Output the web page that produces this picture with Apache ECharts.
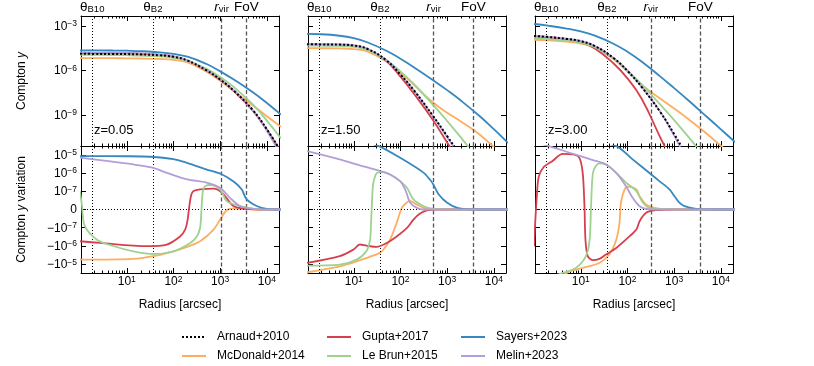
<!DOCTYPE html>
<html>
<head>
<meta charset="utf-8">
<script src="https://cdn.jsdelivr.net/npm/echarts@6/dist/echarts.min.js"></script>
<style>
    html, body { margin: 0; padding: 0; background: #fff; }
    #chart { width: 814px; height: 366px; }
</style>
</head>
<body>
<div id="chart"></div>
<script>
    // radius grid (arcsec) used for the Compton y profiles
    const radiusGrid = [1, 2, 5, 10, 20, 50, 100, 200, 500, 1000, 2000, 5000, 10000, 20000]
    const redshifts = ['z=0.05', 'z=1.50', 'z=3.00']
    const thetaB10 = 1.8
    const thetaB2 = 36
    const fov = 3600
    const rVir = [1080, 512, 318]

    // Compton y profiles, one row per redshift
    const yArnaud = [
        [1.32e-5, 1.31e-5, 1.30e-5, 1.27e-5, 1.21e-5, 1.05e-5, 8.3e-6, 4.6e-6, 1.05e-6, 2.47e-7, 4.1e-8, 2.15e-9, 1.1e-10, 3.5e-12],
        [5.75e-5, 5.71e-5, 5.51e-5, 4.8e-5, 2.76e-5, 4.8e-6, 5.26e-7, 4.08e-8, 8.5e-10, 3.8e-11, 1.6e-12, 2.9e-14, 9e-16, 2.9e-17],
        [2.14e-4, 1.8e-4, 1.33e-4, 9.4e-5, 4.4e-5, 6.97e-6, 9.4e-7, 7.8e-8, 1.63e-9, 5.2e-11, 1.16e-12, 1e-14, 3e-16, 1e-17]
    ]
    const yMcDonald = [
        [6.76e-6, 6.75e-6, 6.68e-6, 6.59e-6, 6.41e-6, 5.96e-6, 5.19e-6, 3.43e-6, 8.6e-7, 2.02e-7, 3.98e-8, 4.37e-9, 8.3e-10, 1.58e-10],
        [3.16e-5, 3.15e-5, 3.06e-5, 2.76e-5, 1.83e-5, 4.18e-6, 7.4e-7, 1.0e-7, 6.9e-9, 1.42e-9, 3.56e-10, 4.7e-11, 6.8e-12, 8.5e-13],
        [1.17e-4, 1.06e-4, 8.65e-5, 6.56e-5, 3.4e-5, 5.9e-6, 8.55e-7, 1.08e-7, 1.29e-8, 2.73e-9, 5.4e-10, 5.4e-11, 8.4e-12, 1.2e-12]
    ]
    const yGupta = [
        [1.41e-5, 1.41e-5, 1.39e-5, 1.36e-5, 1.29e-5, 1.12e-5, 8.7e-6, 4.7e-6, 1.06e-6, 2.42e-7, 3.9e-8, 1.97e-9, 1.0e-10, 3.2e-12],
        [5.62e-5, 5.58e-5, 5.38e-5, 4.69e-5, 2.7e-5, 4.28e-6, 3.8e-7, 2.4e-8, 4.47e-10, 1.41e-11, 4.47e-13, 4e-15, 1e-16, 3.2e-18],
        [2.0e-4, 1.68e-4, 1.22e-4, 8.0e-5, 3.05e-5, 3.05e-6, 2.92e-7, 1.3e-8, 3.27e-11, 4e-13, 3.2e-15, 1e-17, 1e-19, 1e-21]
    ]
    const yLeBrun = [
        [1.12e-5, 1.12e-5, 1.10e-5, 1.07e-5, 1.01e-5, 8.8e-6, 7.15e-6, 4.4e-6, 1.33e-6, 3.6e-7, 7.3e-8, 5.1e-9, 4.2e-10, 2.66e-11],
        [4.68e-5, 4.65e-5, 4.48e-5, 3.9e-5, 2.32e-5, 4.85e-6, 8.6e-7, 1.09e-7, 4.74e-9, 3.94e-10, 2.86e-11, 7.2e-13, 3.9e-14, 1.9e-15],
        [1.51e-4, 1.32e-4, 1.02e-4, 7.46e-5, 3.74e-5, 6.5e-6, 1.0e-6, 1.18e-7, 5.16e-9, 4.45e-10, 3.45e-11, 9.95e-13, 6.3e-14, 4e-15]
    ]
    const ySayers = [
        [2.29e-5, 2.28e-5, 2.21e-5, 2.14e-5, 2.0e-5, 1.66e-5, 1.29e-5, 8.5e-6, 2.82e-6, 8.7e-7, 2.34e-7, 3.4e-8, 6.5e-9, 1.07e-9],
        [2.88e-4, 2.75e-4, 2.18e-4, 1.49e-4, 7.7e-5, 2.13e-5, 6.15e-6, 1.55e-6, 2.23e-7, 4.72e-8, 9.0e-9, 8.2e-10, 1.1e-10, 1.3e-11],
        [1.35e-3, 1.04e-3, 6.67e-4, 4.26e-4, 2.21e-4, 6.37e-5, 1.84e-5, 4.02e-6, 4.02e-7, 6.44e-8, 9.84e-9, 7.6e-10, 1.08e-10, 1.51e-11]
    ]
    const yMelin = [
        [1.66e-5, 1.65e-5, 1.62e-5, 1.58e-5, 1.47e-5, 1.23e-5, 9.3e-6, 4.8e-6, 1.1e-6, 2.6e-7, 4.3e-8, 2.06e-9, 8.6e-11, 1.9e-12],
        [6.03e-5, 5.98e-5, 5.77e-5, 5.02e-5, 2.89e-5, 5.02e-6, 5.5e-7, 4.08e-8, 7.9e-10, 3.2e-11, 1.26e-12, 1.26e-14, 4e-16, 1.26e-17],
        [2.24e-4, 1.88e-4, 1.39e-4, 9.8e-5, 4.6e-5, 7.3e-6, 9.8e-7, 8.2e-8, 1.71e-9, 4.1e-11, 6.5e-13, 4e-15, 1e-16, 2.5e-18]
    ]

    // Compton y variation, [radius, value] pairs, one row per redshift
    const dyMcDonald = [
        [[1, -5.6e-6], [13.8, -5.1e-6], [37, -3.6e-6], [100, -1.95e-6], [195, -1.12e-6], [372, -5.5e-7], [724, -1.26e-7], [1000, -5.5e-8], [1380, -4e-9], [2000, 6e-9], [2690, 4e-9], [6300, 0], [20000, 0]],
        [[1, -2.75e-5], [5, -1.29e-5], [11.5, -6.9e-6], [36, -2.4e-6], [46, -1.26e-6], [60, -4.5e-7], [83, -7.3e-8], [107, 9e-9], [138, 4e-8], [162, 4.6e-8], [224, 2.7e-8], [316, 9e-9], [513, 2e-9], [1000, 0], [20000, 0]],
        [[1, -1.58e-4], [4.1, -4.0e-5], [5.8, -2.45e-5], [11, -1.58e-5], [25, -8.5e-6], [40.7, -2.95e-6], [57.5, -4.5e-7], [67.6, -7.3e-8], [72.4, 3.7e-8], [87, 1.26e-7], [102, 1.78e-7], [155, 1.26e-7], [182, 7.3e-8], [251, 2.7e-8], [407, 7e-9], [794, 0], [20000, 0]]
    ]
    const dyGupta = [
        [[1, -5.5e-7], [2.7, -6.8e-7], [27, -1.02e-6], [72, -8.3e-7], [138, -3.0e-7], [178, -1.26e-7], [200, -6e-8], [219, 2e-8], [240, 8e-8], [269, 1.02e-7], [372, 1.26e-7], [724, 1.38e-7], [1100, 9.2e-8], [1950, 1.8e-8], [3715, 4e-9], [10000, 0], [20000, 0]],
        [[1, -8.5e-6], [5, -3.6e-6], [9.8, -1.58e-6], [13.5, -8.3e-7], [18.6, -9.5e-7], [31, -1.12e-6], [51, -6.8e-7], [83, -3.0e-7], [138, -1.02e-7], [190, -5.5e-8], [263, -2.2e-8], [372, -5e-9], [631, 0], [20000, 0]],
        [[1, -1.02e-6], [1.07, -5e-8], [1.15, 8e-8], [1.26, 6.3e-7], [1.58, 2.0e-6], [2.5, 4.6e-6], [4.1, 1.12e-5], [6.8, 1.05e-5], [9.3, 6.9e-6], [11, 1.02e-6], [12, 1.8e-8], [12.6, -4.5e-7], [14.1, -3.6e-6], [18.2, -6.0e-6], [25, -5.1e-6], [34.7, -2.95e-6], [57.5, -1.29e-6], [110, -3.0e-7], [155, -1.26e-7], [182, -6.4e-8], [251, -1.8e-8], [407, -4e-9], [1000, 0], [20000, 0]]
    ]
    const dyLeBrun = [
        [[1, 1.0e-7], [1.1, 2e-8], [1.26, -9e-8], [2.3, -4.5e-7], [5.1, -1.0e-6], [13.8, -1.95e-6], [37, -2.75e-6], [100, -1.95e-6], [229, -6.8e-7], [316, -3.0e-7], [372, -1.0e-7], [398, 0], [427, 1.0e-7], [479, 1.9e-7], [617, 2.2e-7], [1000, 1.26e-7], [1380, 4.6e-8], [2690, 1.8e-8], [5130, 5e-9], [10000, 0], [20000, 0]],
        [[1, -1.2e-5], [5, -1.05e-5], [11.5, -5.6e-6], [18.6, -1.95e-6], [22.4, -4.5e-7], [23.4, -8e-8], [25.1, 9e-8], [26.3, 3.0e-7], [31.6, 1.02e-6], [42.7, 1.12e-6], [60, 8.3e-7], [98, 3.6e-7], [138, 1.55e-7], [190, 5.5e-8], [316, 1.8e-8], [513, 4e-9], [1000, 0], [20000, 0]],
        [[1, -1e-4], [4.1, -3.0e-5], [7.9, -1.58e-5], [12.9, -3.6e-6], [15.5, -4.5e-7], [16.6, 1.8e-8], [18.2, 1.02e-6], [21.4, 2.6e-6], [25, 3.4e-6], [34.7, 2.95e-6], [57.5, 1.02e-6], [93, 3.0e-7], [155, 1.02e-7], [214, 3.7e-8], [295, 9e-9], [575, 2e-9], [1000, 0], [20000, 0]]
    ]
    const dySayers = [
        [[1, 8.5e-6], [10, 8.3e-6], [31.6, 7.8e-6], [100, 5.8e-6], [195, 3.6e-6], [500, 1.6e-6], [1100, 8.3e-7], [2000, 3.2e-7], [2900, 1.26e-7], [3700, 5.5e-8], [6200, 1.8e-8], [10000, 4e-9], [20000, 0]],
        [[1, 1.58e-4], [10, 7.1e-5], [34, 3.0e-5], [98, 6.9e-6], [316, 1.02e-6], [468, 3.2e-7], [513, 2.2e-7], [660, 8.2e-8], [1000, 3.7e-8], [1660, 9e-9], [3800, 0], [20000, 0]],
        [[1, 3.16e-4], [10, 7.9e-5], [57.5, 3.0e-5], [129, 5.6e-6], [309, 9.1e-7], [490, 3.5e-7], [794, 1.26e-7], [1000, 7.5e-8], [1260, 4e-8], [1660, 1.8e-8], [2950, 4e-9], [6300, 0], [20000, 0]]
    ]
    const dyMelin = [
        [[1, 6.9e-6], [2.7, 5.1e-6], [13.8, 2.95e-6], [35.5, 1.95e-6], [72, 1.02e-6], [195, 4.5e-7], [513, 3.0e-7], [1000, 1.55e-7], [1620, 6.4e-8], [2690, 1.8e-8], [5130, 4e-9], [10000, 0], [20000, 0]],
        [[1, 1.58e-5], [5, 5.6e-6], [11.5, 2.95e-6], [36, 1.29e-6], [60, 8.3e-7], [98, 3.6e-7], [126, 1.26e-7], [162, 3.7e-8], [224, 9e-9], [316, 0], [20000, 0]],
        [[1, 5e-5], [2.1, 3.0e-5], [5.8, 1.29e-5], [18.2, 5.1e-6], [34.7, 2.95e-6], [57.5, 1.02e-6], [93, 1.9e-7], [129, 6.4e-8], [182, 1.8e-8], [251, 4e-9], [500, 0], [20000, 0]]
    ]

    const legendCols = [
        ['Arnaud+2010', 'McDonald+2014'],
        ['Gupta+2017', 'Le Brun+2015'],
        ['Sayers+2023', 'Melin+2023']
    ]

    const models = [
        { name: 'Arnaud+2010', color: '#000000', y: yArnaud, dy: null },
        { name: 'McDonald+2014', color: '#fdae61', y: yMcDonald, dy: dyMcDonald },
        { name: 'Gupta+2017', color: '#d6404e', y: yGupta, dy: dyGupta },
        { name: 'Le Brun+2015', color: '#9dd290', y: yLeBrun, dy: dyLeBrun },
        { name: 'Sayers+2023', color: '#3787c0', y: ySayers, dy: dySayers },
        { name: 'Melin+2023', color: '#b29ed8', y: yMelin, dy: dyMelin }
    ]

    const FONT = '"Liberation Sans", Arial, Helvetica, sans-serif'
    const lg = Math.log10
    // symmetric log with linear part below 1e-7
    const LIN = 1e-7
    const symlog = v => Math.abs(v) <= LIN ? v / LIN : Math.sign(v) * (1 + lg(Math.abs(v) / LIN))

    const lefts = [81, 308, 535]
    const xMin = 0.02, xMax = 4.26
    const majorX = [1, 2, 3, 4]
    const minorX = []
    for (let e = 0; e < 5; e++) {
        for (let k = 2; k < 10; k++) {
            const v = e + lg(k)
            if (v > xMin && v < xMax) minorX.push(v)
        }
    }

    const tickRich = {
        b: { fontSize: 12, fontFamily: FONT, color: '#000', lineHeight: 13, padding: [4, 0, 0, 0], verticalAlign: 'bottom' },
        s: { fontSize: 8.5, fontFamily: FONT, color: '#000', lineHeight: 9, verticalAlign: 'top' }
    }
    const topRich = {
        t: { fontSize: 13.5, fontFamily: FONT, color: '#000', lineHeight: 14, padding: [0, 0, 1, 0], verticalAlign: 'top' },
        ti: { fontSize: 13.5, fontFamily: FONT, fontStyle: 'italic', color: '#000', lineHeight: 14, padding: [0, 0, 1, 0], verticalAlign: 'top' },
        u: { fontSize: 9.5, fontFamily: FONT, color: '#000', lineHeight: 10, verticalAlign: 'bottom' }
    }
    const nameRich = {
        n: { fontSize: 12, fontFamily: FONT, color: '#000' },
        i: { fontSize: 12, fontFamily: FONT, color: '#000', fontStyle: 'italic' }
    }

    const lineBlack = { color: '#000', width: 1 }

    const grid = []
    const xAxis = []
    const yAxis = []
    for (let g = 0; g < 6; g++) {
        const p = g % 3
        const top = g < 3
        grid.push(top
            ? { left: lefts[p], top: 16, width: 198, height: 130 }
            : { left: lefts[p], top: 146, width: 198, height: 127 })

        const xBase = {
            type: 'value', gridIndex: g, min: xMin, max: xMax,
            splitLine: { show: false },
            axisLine: { show: true, onZero: false, lineStyle: lineBlack },
            axisLabel: { show: false }
        }
        xAxis.push(Object.assign({}, xBase, {
            position: 'bottom',
            axisTick: { inside: true, length: 5, lineStyle: lineBlack, customValues: majorX },
            axisLabel: top ? { show: false } : {
                show: true, customValues: majorX, margin: 2, rich: tickRich,
                formatter: v => '{b|10}{s|' + Math.round(v) + '}'
            },
            name: top ? '' : 'Radius [arcsec]',
            nameLocation: 'middle', nameGap: 26,
            nameTextStyle: { fontSize: 12, fontFamily: FONT, color: '#000' }
        }))
        xAxis.push(Object.assign({}, xBase, {
            position: 'bottom', axisLine: { show: false, onZero: false },
            axisTick: { inside: true, length: 2.5, lineStyle: lineBlack, customValues: minorX }
        }))
        xAxis.push(Object.assign({}, xBase, {
            position: 'top',
            axisTick: { inside: true, length: 5, lineStyle: lineBlack, customValues: majorX }
        }))
        xAxis.push(Object.assign({}, xBase, {
            position: 'top', axisLine: { show: false, onZero: false },
            axisTick: { inside: true, length: 2.5, lineStyle: lineBlack, customValues: minorX }
        }))

        const yTicks = top ? [-9, -6, -3] : [-3, -2, -1, 0, 1, 2, 3]
        const yFmt = top
            ? v => '{b|10}{s|\u2212' + Math.round(-v) + '}'
            : v => v === 0 ? '{b|0}' : (v > 0 ? '{b|10}' : '{b|\u221210}') + '{s|\u2212' + (8 - Math.abs(Math.round(v))) + '}'
        const yBase = {
            type: 'value', gridIndex: g,
            min: top ? -11.09 : -3.48, max: top ? -2.33 : 3.48,
            splitLine: { show: false },
            axisLine: { show: true, onZero: false, lineStyle: lineBlack },
            axisTick: { inside: true, length: 5, lineStyle: lineBlack, customValues: yTicks }
        }
        yAxis.push(Object.assign({}, yBase, {
            position: 'left',
            axisLabel: p === 0 ? { show: true, customValues: yTicks, margin: 4, rich: tickRich, formatter: yFmt } : { show: false },
            name: p === 0 ? (top ? '{n|Compton }{i|y}' : '{n|Compton }{i|y}{n| variation}') : '',
            nameLocation: 'middle', nameRotate: 90, nameGap: 53,
            nameTextStyle: { rich: nameRich }
        }))
        yAxis.push(Object.assign({}, yBase, { position: 'right', axisLabel: { show: false } }))
    }

    const series = []
    models.forEach((m, mi) => {
        const common = {
            name: m.name, type: 'line', symbol: 'none', showSymbol: false,
            animation: false, silent: true,
            z: m.dy ? 3 + mi : 10,
            color: m.color,
            lineStyle: m.dy ? { color: m.color, width: 1.8 } : { color: m.color, width: 2, type: [2, 2] }
        }
        for (let p = 0; p < 3; p++) {
            series.push(Object.assign({}, common, {
                xAxisIndex: 4 * p, yAxisIndex: 2 * p, smooth: 0.45,
                data: radiusGrid.map((r, i) => [lg(r), lg(m.y[p][i])])
            }))
            if (m.dy) {
                series.push(Object.assign({}, common, {
                    xAxisIndex: 4 * (p + 3), yAxisIndex: 2 * (p + 3), smooth: 0.3,
                    data: m.dy[p].map(d => [lg(d[0]), symlog(d[1])])
                }))
            }
        }
    })

    // guide lines: beam sizes, virial radius, field of view
    const dotted = { color: '#000', width: 1, type: [1, 2] }
    const dashed = { color: '#555', width: 1.3, type: [4, 2.5] }
    for (let g = 0; g < 6; g++) {
        const p = g % 3
        const top = g < 3
        const lines = [
            { xAxis: lg(thetaB10), lineStyle: dotted, label: { formatter: '{t|\u03b8}{u|B10}' } },
            { xAxis: lg(thetaB2), lineStyle: dotted, label: { formatter: '{t|\u03b8}{u|B2}' } },
            { xAxis: lg(rVir[p]), lineStyle: dashed, label: { formatter: '{ti|r}{u|vir}' } },
            { xAxis: lg(fov), lineStyle: dashed, label: { formatter: '{t|FoV}' } }
        ]
        if (!top) lines.push({ yAxis: 0, lineStyle: dotted })
        series.push({
            type: 'line', xAxisIndex: 4 * g, yAxisIndex: 2 * g, data: [], z: 1, silent: true, animation: false,
            markLine: {
                symbol: ['none', 'none'], silent: true, animation: false,
                label: { show: top, position: 'end', distance: 2, rich: topRich },
                data: lines
            }
        })
    }

    const chart = echarts.init(document.getElementById('chart'), null, { renderer: 'canvas' })
    chart.setOption({
        backgroundColor: '#fff',
        animation: false,
        title: redshifts.map((z, p) => ({
            text: z, left: lefts[p] + 13, top: 124, padding: 0,
            textStyle: { fontSize: 13, fontWeight: 'normal', fontFamily: FONT, color: '#000' }
        })),
        legend: legendCols.map((col, c) => ({
            data: col, orient: 'vertical', left: [181, 326, 460][c], top: 331, padding: 0,
            itemGap: 7, itemWidth: 24, itemHeight: 14, selectedMode: false,
            itemStyle: { opacity: 0 },
            textStyle: { fontSize: 12, fontFamily: FONT, color: '#000', padding: [0, 0, 0, 6] }
        })),
        grid: grid,
        xAxis: xAxis,
        yAxis: yAxis,
        series: series
    })
</script>
</body>
</html>
